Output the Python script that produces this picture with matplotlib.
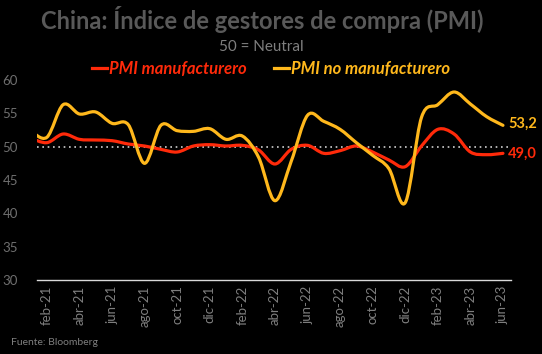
import numpy as np
import matplotlib.pyplot as plt
from matplotlib.path import Path
from matplotlib.patches import PathPatch
from matplotlib.lines import Line2D

plt.rcParams["font.family"] = ["Lato", "DejaVu Sans"]

# meses (ene-21 queda justo fuera del eje, la curva arranca recortada)
meses = ["ene-21", "feb-21", "mar-21", "abr-21", "may-21", "jun-21", "jul-21", "ago-21",
         "sep-21", "oct-21", "nov-21", "dic-21", "ene-22", "feb-22", "mar-22", "abr-22",
         "may-22", "jun-22", "jul-22", "ago-22", "sep-22", "oct-22", "nov-22", "dic-22",
         "ene-23", "feb-23", "mar-23", "abr-23", "may-23", "jun-23"]
pmi_manuf = [51.3, 50.6, 51.9, 51.1, 51.0, 50.9, 50.4, 50.1, 49.6, 49.2, 50.1, 50.3,
             50.1, 50.2, 49.5, 47.4, 49.6, 50.2, 49.0, 49.4, 50.1, 49.2, 48.0, 47.0,
             50.1, 52.6, 51.9, 49.2, 48.8, 49.0]
pmi_no_manuf = [52.4, 51.4, 56.3, 54.9, 55.2, 53.5, 53.3, 47.5, 53.2, 52.4, 52.3, 52.7,
                51.1, 51.6, 48.4, 41.9, 47.8, 54.7, 53.8, 52.6, 50.6, 48.7, 46.7, 41.6,
                54.4, 56.3, 58.2, 56.4, 54.5, 53.2]

ROJO = "#ff2a0a"
NARANJA = "#ffb81c"
GRIS = "#7f7f7f"


def curva_suave(ax, xs, ys, color):
    # curva tipo Excel "linea suavizada" con segmentos Bezier
    pts = np.column_stack([xs, ys])
    n = len(pts)
    verts = [pts[0]]
    codes = [Path.MOVETO]
    for i in range(n - 1):
        p0 = pts[max(i - 1, 0)]
        p1 = pts[i]
        p2 = pts[i + 1]
        p3 = pts[min(i + 2, n - 1)]
        c1 = p1 + (p2 - p0) / 6.0
        c2 = p2 - (p3 - p1) / 6.0
        verts += [c1, c2, p2]
        codes += [Path.CURVE4] * 3
    patch = PathPatch(Path(verts, codes), facecolor="none", edgecolor=color,
                      lw=2.3, capstyle="round", joinstyle="round", zorder=3)
    ax.add_patch(patch)


fig = plt.figure(figsize=(5.42, 3.54), dpi=100, facecolor="black")
ax = fig.add_axes([0.069, 0.209, 0.874, 0.565], facecolor="black")

x = np.arange(len(meses)) - 1  # feb-21 = 0
ax.axhline(50, color="#d0d0d0", lw=1.2, ls=(0, (1, 2.2)), zorder=2)
curva_suave(ax, x, pmi_manuf, ROJO)
curva_suave(ax, x, pmi_no_manuf, NARANJA)

ax.set_xlim(-0.58, 28.5)
ax.set_ylim(30, 60)
ax.set_yticks(range(30, 61, 5))
ticks = x[1::2]
ax.set_xticks(ticks)
ax.set_xticklabels(meses[1::2], rotation=90)
ax.tick_params(axis="both", colors=GRIS, labelsize=9.5, length=0, pad=4)
ax.tick_params(axis="y", labelcolor="#6f6f6f", pad=14)
for s in ["top", "right", "left"]:
    ax.spines[s].set_visible(False)
ax.spines["bottom"].set_color("#d9d9d9")
ax.spines["bottom"].set_linewidth(1.0)

ax.text(28.3, pmi_no_manuf[-1] + 0.2, "53,2", color=NARANJA, fontsize=10.5,
        fontweight="bold", va="center", ha="left", clip_on=False)
ax.text(28.3, pmi_manuf[-1], "49,0", color=ROJO, fontsize=10.5,
        fontweight="bold", va="center", ha="left", clip_on=False)

fig.text(0.483, 0.945, "China: Índice de gestores de compra (PMI)", ha="center",
         va="center", color="#595959", fontsize=17, fontweight="bold")
fig.text(0.482, 0.868, "50 = Neutral", ha="center", va="center", color=GRIS, fontsize=11)

handles = [Line2D([], [], color=ROJO, lw=2.3), Line2D([], [], color=NARANJA, lw=2.3)]
leg = fig.legend(handles, ["PMI manufacturero", "PMI no manufacturero"], ncol=2,
                 loc="center", bbox_to_anchor=(0.5, 0.805), frameon=False,
                 handlelength=0.9, handletextpad=0.15, columnspacing=1.6,
                 prop={"size": 12, "weight": "bold", "style": "italic"})
for t, c in zip(leg.get_texts(), [ROJO, NARANJA]):
    t.set_color(c)

fig.text(0.02, 0.033, "Fuente: Bloomberg", color=GRIS, fontsize=7.5, ha="left", va="center")

fig.savefig("out.png", dpi=100, facecolor="black")
